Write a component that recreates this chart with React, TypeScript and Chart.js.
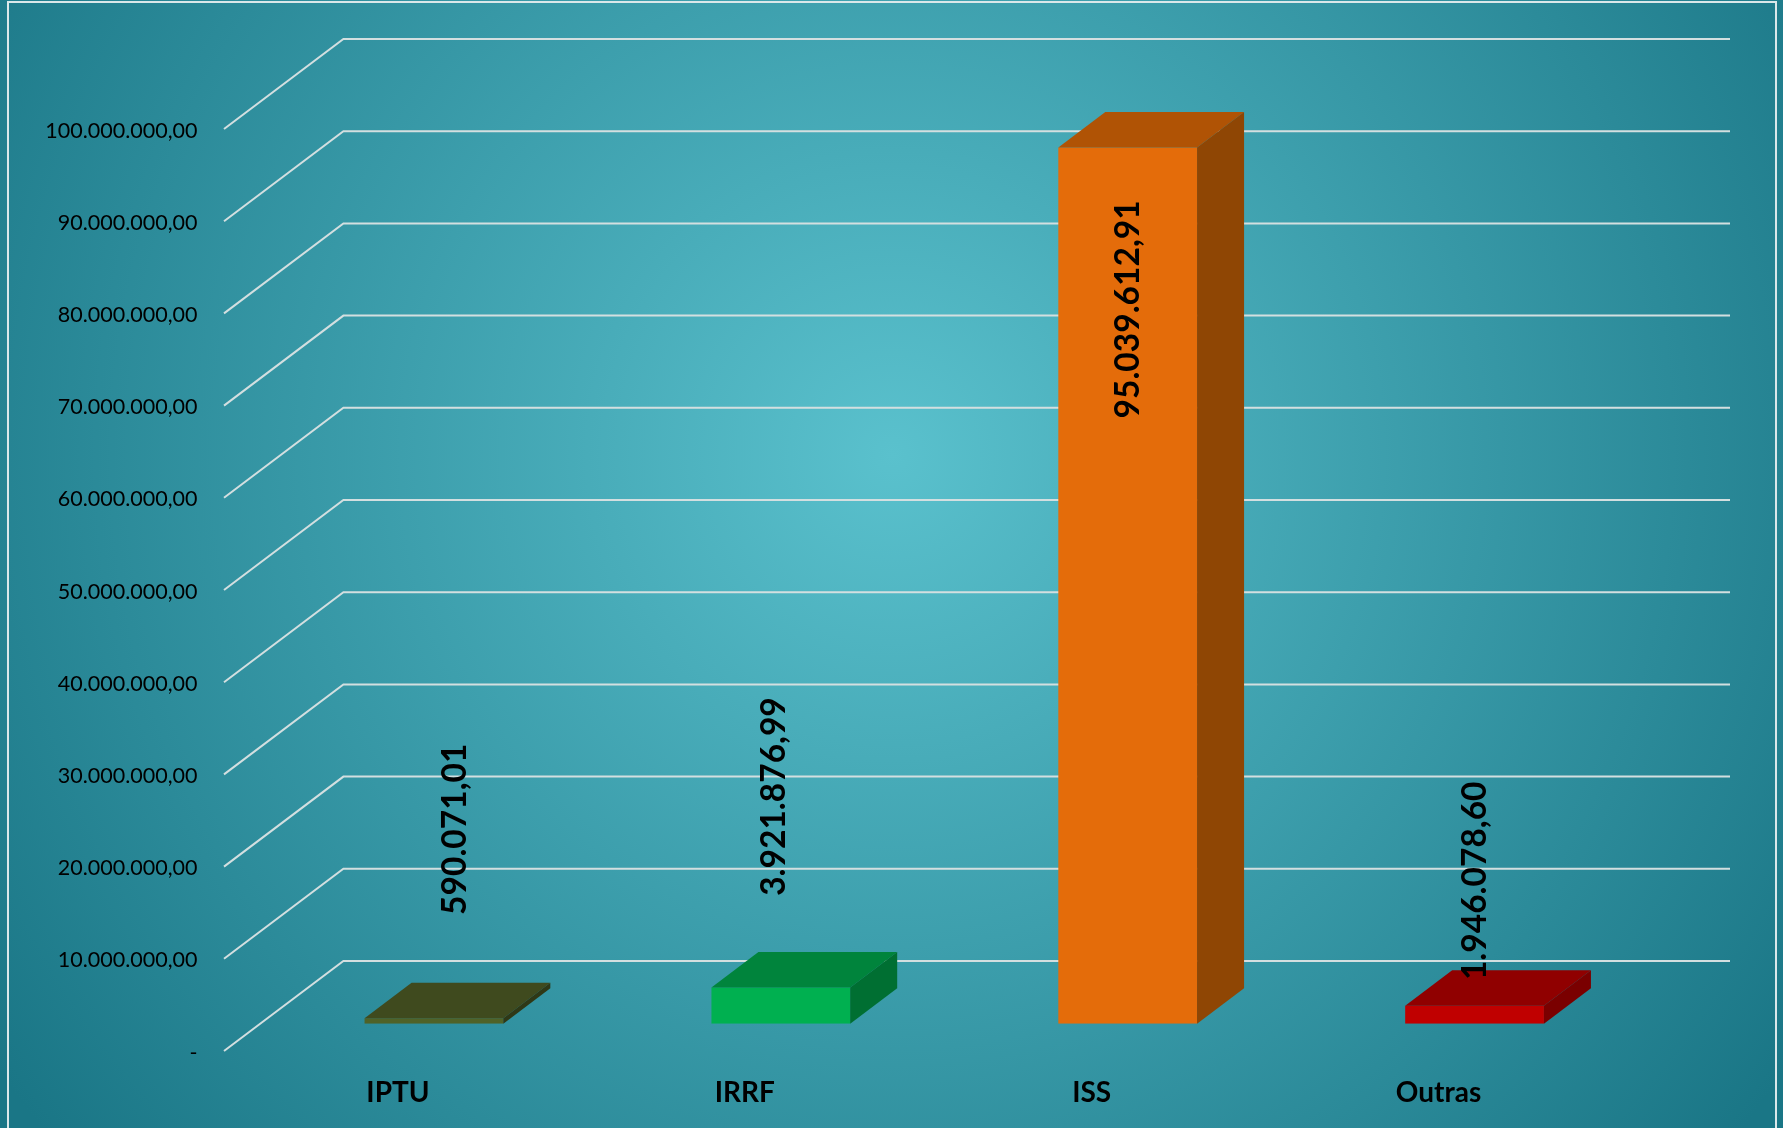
import React, { useEffect, useRef } from "react";
import { Chart, registerables } from "chart.js";

Chart.register(...registerables);

const categories = ["IPTU", "IRRF", "ISS", "Outras"];
const values = [590071.01, 3921876.99, 95039612.91, 1946078.6];
const tickValues = [0, 10000000, 20000000, 30000000, 40000000, 50000000, 60000000, 70000000, 80000000, 90000000, 100000000];
const frontColors = ["#4f6228", "#00b050", "#e46c0a", "#c00000"];
const topColors = ["#3f4a1e", "#00843c", "#b05305", "#900000"];
const sideColors = ["#2f3816", "#006f32", "#8f4604", "#7a0000"];

const WIDTH = 1783;
const HEIGHT = 1128;
const FONT = "Lato, Carlito, sans-serif";
const BAR_DEPTH = { x: 47, y: 35.5 };
const FLOOR = { frontX: 224, frontDy: 27.3, backX: 343.4, backDy: -62.7, rightX: 1730 };
const LABEL_SHIFT = [
  { x: 21, y: -189 },
  { x: -7, y: -191 },
  { x: 1, y: 162 },
  { x: 1, y: -125 },
];

const fmt = (v: number) =>
  v === 0 ? "-" : v.toLocaleString("pt-BR", { minimumFractionDigits: 2, maximumFractionDigits: 2 });

const wallPlugin = {
  id: "wall3d",
  beforeDatasetsDraw(chart: any) {
    const { ctx } = chart;
    const y = chart.scales.y;
    ctx.save();
    ctx.strokeStyle = "#d3dfe0";
    ctx.lineWidth = 2;
    ctx.lineJoin = "miter";
    tickValues.forEach((t) => {
      const py = y.getPixelForValue(t);
      ctx.beginPath();
      ctx.moveTo(FLOOR.frontX, py + FLOOR.frontDy);
      ctx.lineTo(FLOOR.backX, py + FLOOR.backDy);
      ctx.lineTo(FLOOR.rightX, py + FLOOR.backDy);
      ctx.stroke();
    });
    ctx.restore();
  },
  afterDatasetsDraw(chart: any) {
    const { ctx } = chart;
    const meta = chart.getDatasetMeta(0);
    ctx.save();
    meta.data.forEach((bar: any, i: number) => {
      const left = bar.x - bar.width / 2;
      const right = bar.x + bar.width / 2;
      const top = bar.y;
      const base = bar.base;
      ctx.fillStyle = topColors[i];
      ctx.beginPath();
      ctx.moveTo(left, top);
      ctx.lineTo(left + BAR_DEPTH.x, top - BAR_DEPTH.y);
      ctx.lineTo(right + BAR_DEPTH.x, top - BAR_DEPTH.y);
      ctx.lineTo(right, top);
      ctx.closePath();
      ctx.fill();
      ctx.fillStyle = sideColors[i];
      ctx.beginPath();
      ctx.moveTo(right, top);
      ctx.lineTo(right + BAR_DEPTH.x, top - BAR_DEPTH.y);
      ctx.lineTo(right + BAR_DEPTH.x, base - BAR_DEPTH.y);
      ctx.lineTo(right, base);
      ctx.closePath();
      ctx.fill();
    });
    ctx.fillStyle = "#000000";
    ctx.font = `bold 33.5px ${FONT}`;
    ctx.textAlign = "center";
    ctx.textBaseline = "middle";
    meta.data.forEach((bar: any, i: number) => {
      ctx.save();
      ctx.translate(bar.x + LABEL_SHIFT[i].x, bar.y + LABEL_SHIFT[i].y);
      ctx.rotate(-Math.PI / 2);
      ctx.fillText(fmt(values[i]), 0, 0);
      ctx.restore();
    });
    ctx.restore();
  },
};

export default function App() {
  const ref = useRef<HTMLCanvasElement>(null);
  useEffect(() => {
    const chart = new Chart(ref.current as HTMLCanvasElement, {
      type: "bar",
      data: {
        labels: categories,
        datasets: [
          {
            data: values,
            backgroundColor: frontColors,
            borderWidth: 0,
            barPercentage: 0.4,
            categoryPercentage: 1,
          },
        ],
      },
      plugins: [wallPlugin],
      options: {
        animation: false,
        responsive: false,
        devicePixelRatio: 1,
        layout: { padding: { top: 101.7, right: 135, left: 0, bottom: 0 } },
        plugins: { legend: { display: false }, tooltip: { enabled: false }, title: { display: false } },
        scales: {
          x: {
            border: { display: false },
            grid: { display: false, drawTicks: false },
            afterFit: (s: any) => {
              s.height = 104.3;
            },
            ticks: {
              color: "#000000",
              font: { family: FONT, size: 28, weight: "bold" },
              padding: 52.5,
              labelOffset: -36,
              maxRotation: 0,
            },
          },
          y: {
            min: 0,
            max: 100000000,
            border: { display: false },
            grid: { display: false, drawTicks: false },
            afterFit: (s: any) => {
              s.width = 260.5;
            },
            afterBuildTicks: (s: any) => {
              s.ticks = tickValues.map((value) => ({ value }));
            },
            ticks: {
              color: "#000000",
              font: { family: FONT, size: 21.5 },
              padding: 63,
              labelOffset: 29,
              autoSkip: false,
              callback: (v: any) => fmt(Number(v)),
            },
          },
        },
      },
    } as any);
    return () => chart.destroy();
  }, []);

  return (
    <div
      style={{
        position: "fixed",
        left: 0,
        top: 0,
        width: WIDTH,
        height: HEIGHT,
        overflow: "hidden",
        background: "radial-gradient(circle 1085px at 892px 455px, #5ac1cd 0%, #1a7686 100%)",
      }}
    >
      <div
        style={{
          position: "absolute",
          left: 7,
          top: 1,
          width: 1770,
          height: 1200,
          border: "2px solid #dbe8ea",
          boxSizing: "border-box",
        }}
      />
      <canvas
        ref={ref}
        width={WIDTH}
        height={HEIGHT}
        style={{ position: "absolute", left: 0, top: 0, display: "block", filter: "blur(0.4px)" }}
      />
    </div>
  );
}
